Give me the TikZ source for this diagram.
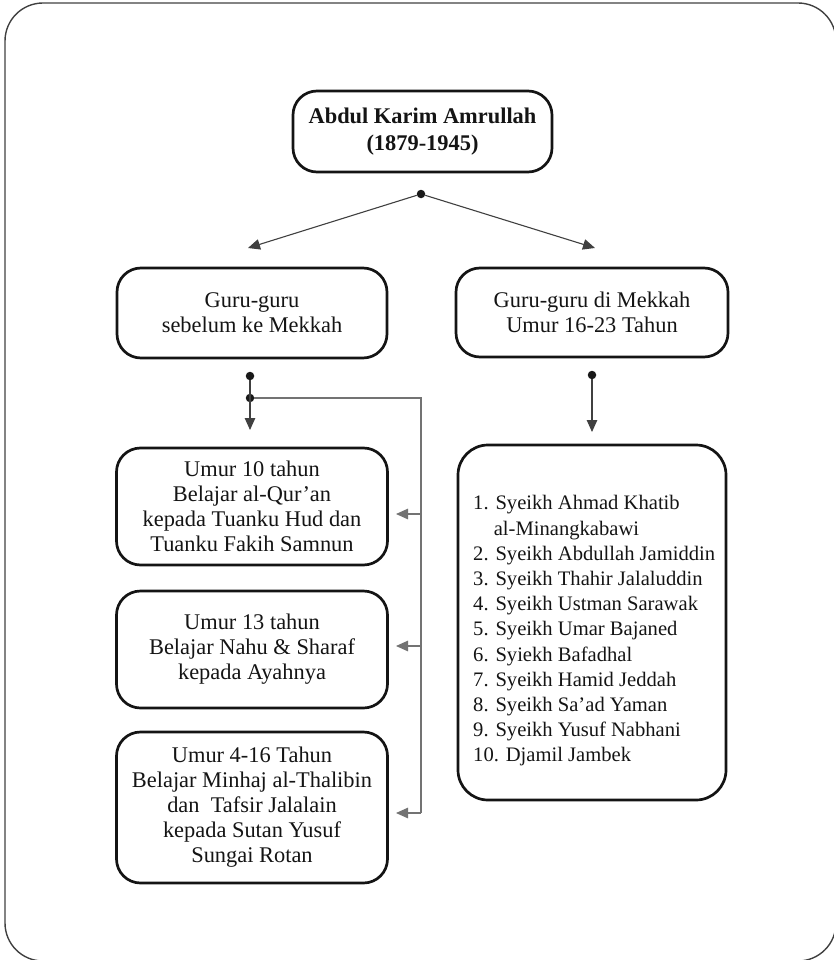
\documentclass[tikz,border=0pt]{standalone}
\usepackage{fontspec}
\setmainfont{Liberation Serif}
\usetikzlibrary{arrows.meta}

\tikzset{
  frame/.style={draw=black!75, line width=1.4pt, rounded corners=38pt},
  box/.style={draw=black!92, line width=2.7pt, rounded corners=24pt,
    align=center, inner sep=0pt, text=black!92,
    font=\fontsize{22.4}{25}\selectfont},
  titlebox/.style={box, font=\fontsize{22.4}{27}\bfseries\selectfont},
  listtext/.style={align=left, inner sep=0pt, text=black!92, anchor=west,
    font=\fontsize{20.6}{25.2}\selectfont},
  link/.style={draw=black!75, line width=1.1pt},
  feed/.style={draw=black!55, line width=1.2pt},
  tip/.style={-{Triangle[length=12pt,width=10.5pt]}},
  dot/.style={fill=black!90, circle, inner sep=0pt, minimum size=8.5pt},
}

\begin{document}
\begin{tikzpicture}[x=1pt, y=-1pt]
  \useasboundingbox (0,0) rectangle (834,960);
  \draw[frame] (5,3) rectangle (836,961);

  % top person
  \node[titlebox, minimum width=259pt, minimum height=81pt] (root) at (422.5,131.5)
    {Abdul Karim Amrullah\\(1879-1945)};

  % two branches
  \node[box, minimum width=270pt, minimum height=90pt] (before) at (252,313)
    {Guru-guru\\sebelum ke Mekkah};
  \node[box, minimum width=272pt, minimum height=89pt] (mekkah) at (592,312.5)
    {Guru-guru di Mekkah\\Umur 16-23 Tahun};

  \node[dot] (split) at (421,194) {};
  \coordinate (tipL) at (248,248);
  \coordinate (tipR) at (595,248);
  \draw[link, tip] (split) -- (tipL);
  \draw[link, tip] (split) -- (tipR);

  % teachers before Mekkah
  \node[box, minimum width=271pt, minimum height=117pt] (ageten) at (252,506.5)
    {Umur 10 tahun\\Belajar al-Qur’an\\kepada Tuanku Hud dan\\Tuanku Fakih Samnun};
  \node[box, minimum width=271pt, minimum height=117pt] (agethirteen) at (252,649.5)
    {Umur 13 tahun\\Belajar Nahu \& Sharaf\\kepada Ayahnya};
  \node[box, minimum width=271pt, minimum height=151pt] (agefour) at (252,807.5)
    {Umur 4-16 Tahun\\Belajar Minhaj al-Thalibin\\dan\ \ Tafsir Jalalain\\kepada Sutan Yusuf\\Sungai Rotan};

  \node[dot] (ldotA) at (250,376) {};
  \node[dot] (ldotB) at (250,398) {};
  \coordinate (ltip) at (250,430);
  \draw[link, tip] (ldotA) -- (ltip);

  \coordinate (railTop) at (421,398);
  \coordinate (railBot) at (421,813);
  \coordinate (inA) at (396,514);
  \coordinate (inB) at (396,646);
  \coordinate (inC) at (396,813);
  \draw[feed] (ldotB) -- (railTop) -- (railBot);
  \draw[feed, tip] (421,514) -- (inA);
  \draw[feed, tip] (421,646) -- (inB);
  \draw[feed, tip] (railBot) -- (inC);

  % teachers in Mekkah
  \node[dot] (rdot) at (592,375) {};
  \coordinate (rtip) at (592,432);
  \draw[link, tip] (rdot) -- (rtip);

  \node[box, rounded corners=30pt, minimum width=268pt, minimum height=355pt]
    (listbox) at (592,622.5) {};
  \node[listtext] (names) at (473,631)
    {1. Syeikh Ahmad Khatib\\
     \phantom{1.\ }al-Minangkabawi\\
     2. Syeikh Abdullah Jamiddin\\
     3. Syeikh Thahir Jalaluddin\\
     4. Syeikh Ustman Sarawak\\
     5. Syeikh Umar Bajaned\\
     6. Syiekh Bafadhal\\
     7. Syeikh Hamid Jeddah\\
     8. Syeikh Sa’ad Yaman\\
     9. Syeikh Yusuf Nabhani\\
     10. Djamil Jambek};
\end{tikzpicture}
\end{document}
